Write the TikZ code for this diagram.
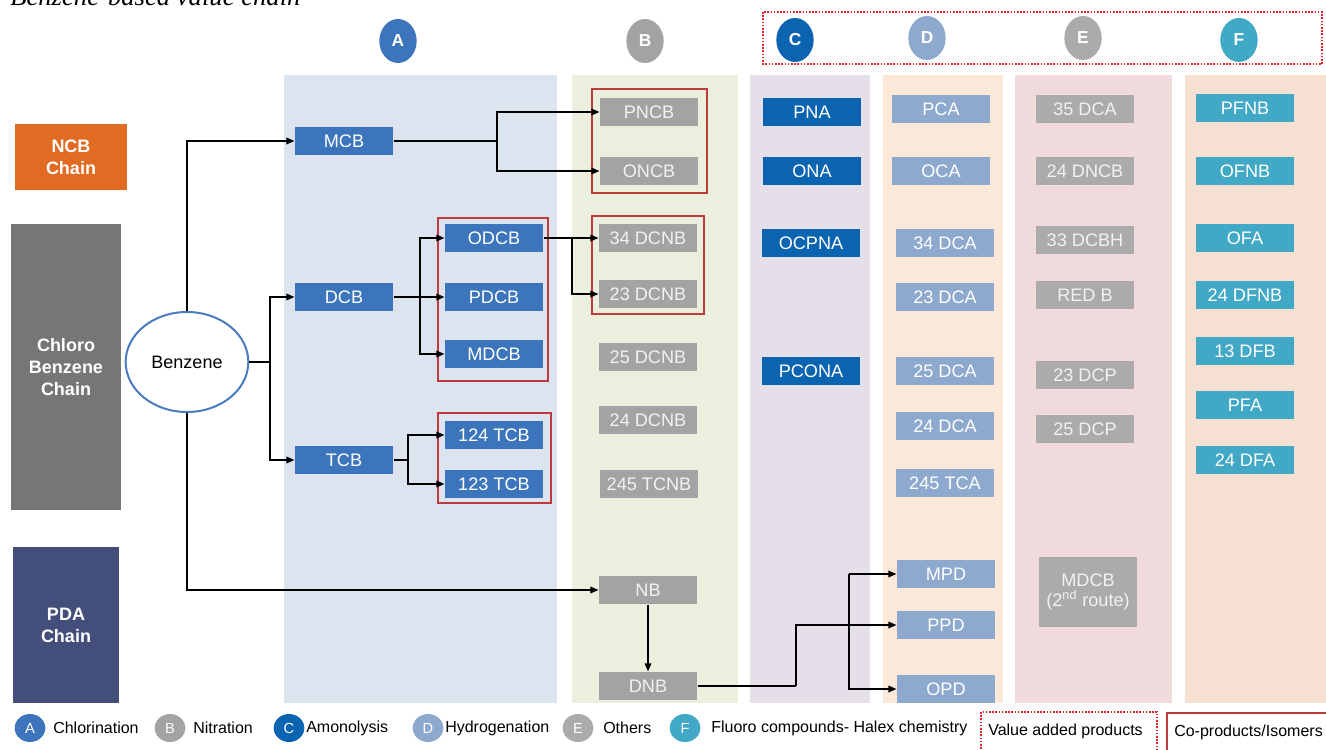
\documentclass[tikz,border=0pt]{standalone}
\usepackage{fontspec}
\setmainfont{Liberation Sans}
\newfontfamily\capfont{Liberation Serif}
\usetikzlibrary{arrows.meta, positioning, shapes.geometric, calc}
\usepackage{xcolor}
\definecolor{ChlorA}{HTML}{3C75BC}
\definecolor{NitrB}{HTML}{A3A3A3}
\definecolor{AmonC}{HTML}{0B64AF}
\definecolor{HydrD}{HTML}{8DA9CD}
\definecolor{OthE}{HTML}{ACAAAA}
\definecolor{FluoF}{HTML}{41A8C5}
\definecolor{LaneA}{HTML}{DCE4F0}
\definecolor{LaneB}{HTML}{EBEFDE}
\definecolor{LaneC}{HTML}{E5DFEA}
\definecolor{LaneD}{HTML}{FCE8D9}
\definecolor{LaneE}{HTML}{F1DADB}
\definecolor{LaneF}{HTML}{F6E0D2}
\definecolor{NcbOrange}{HTML}{E26B24}
\definecolor{ChloroGrey}{HTML}{767676}
\definecolor{PdaNavy}{HTML}{434E7B}
\definecolor{BenzBlue}{HTML}{4A7BBE}
\definecolor{IsoRed}{HTML}{C0393D}
\definecolor{ValRed}{HTML}{E3242B}
\tikzset{
  pbox/.style={minimum width=74pt, minimum height=21.5pt, inner sep=0pt,
    text=white, font=\fontsize{13.6}{15.5}\selectfont},
  abox/.style={pbox, fill=ChlorA},
  bbox/.style={pbox, fill=NitrB, text=white!95!black},
  cbox/.style={pbox, fill=AmonC},
  dbox/.style={pbox, fill=HydrD},
  ebox/.style={pbox, fill=OthE, text=white!95!black},
  fbox/.style={pbox, fill=FluoF},
  chain/.style={align=center, text=white, inner sep=0pt,
    font=\bfseries\fontsize{13.5}{16.5}\selectfont},
  tag/.style={ellipse, minimum width=28pt, minimum height=33pt, inner sep=0pt,
    text=white, font=\bfseries\fontsize{13}{15}\selectfont},
  key/.style={ellipse, minimum width=23pt, minimum height=21pt, inner sep=0pt,
    text=white, font=\fontsize{11}{13}\selectfont},
  keytext/.style={anchor=west, inner sep=0pt, font=\fontsize{12}{14}\selectfont},
  iso/.style={draw=IsoRed, line width=1.8pt},
  valadd/.style={draw=ValRed, line width=1.2pt, dash pattern=on 1.2pt off 1.2pt},
  wire/.style={line width=0.9pt},
  link/.style={wire, -{Triangle[length=6pt, width=5pt]}},
}
\begin{document}
\begin{tikzpicture}[x=0.75pt, y=-0.75pt]
  \useasboundingbox (0,0) rectangle (1326,749);
  \node[anchor=base west, inner sep=0pt, font=\capfont\itshape\fontsize{20}{22}\selectfont]
    (title) at (10,6) {Benzene-based value chain};

  % process lanes
  \fill[LaneA] (284,75) rectangle (557,703);
  \fill[LaneB] (572,75) rectangle (738,703);
  \fill[LaneC] (750,75) rectangle (870,703);
  \fill[LaneD] (883,75) rectangle (1003,703);
  \fill[LaneE] (1015,75) rectangle (1172,703);
  \fill[LaneF] (1185,75) rectangle (1326,703);

  % lane headers
  \draw[valadd] (763,12) rectangle (1322,64);
  \node[tag, fill=ChlorA] (hA) at (398,41) {A};
  \node[tag, fill=NitrB] (hB) at (645,41) {B};
  \node[tag, fill=AmonC] (hC) at (795,40) {C};
  \node[tag, fill=HydrD] (hD) at (927,38) {D};
  \node[tag, fill=OthE] (hE) at (1083,38) {E};
  \node[tag, fill=FluoF] (hF) at (1239,40) {F};

  % chains
  \node[chain, fill=NcbOrange, minimum width=84pt, minimum height=49.5pt] (ncb) at (71,157) {NCB\\Chain};
  \node[chain, fill=ChloroGrey, minimum width=82.5pt, minimum height=214pt] (chloro) at (66,367) {Chloro\\Benzene\\Chain};
  \node[chain, fill=PdaNavy, minimum width=79.5pt, minimum height=117pt] (pda) at (66,625) {PDA\\Chain};
  \node[ellipse, draw=BenzBlue, line width=1.5pt, fill=white, minimum width=92pt, minimum height=75pt,
    inner sep=0pt, font=\fontsize{13.5}{15}\selectfont] (benz) at (187,362) {Benzene};

  % co-product groups
  \draw[iso] (592,89) rectangle (707,193);
  \draw[iso] (438,218) rectangle (548,381);
  \draw[iso] (592,216) rectangle (704,314);
  \draw[iso] (438,413) rectangle (551,503);

  % A: chlorination
  \node[abox] (mcb) at (344,141) {MCB};
  \node[abox] (dcb) at (344,297) {DCB};
  \node[abox] (tcb) at (344,460) {TCB};
  \node[abox] (odcb) at (494,238) {ODCB};
  \node[abox] (pdcb) at (494,297) {PDCB};
  \node[abox] (mdcb) at (494,354) {MDCB};
  \node[abox] (tcb124) at (494,435) {124 TCB};
  \node[abox] (tcb123) at (494,484) {123 TCB};

  % B: nitration
  \node[bbox] (pncb) at (649,112) {PNCB};
  \node[bbox] (oncb) at (649,171) {ONCB};
  \node[bbox] (dcnb34) at (648,238) {34 DCNB};
  \node[bbox] (dcnb23) at (648,294) {23 DCNB};
  \node[bbox] (dcnb25) at (648,357) {25 DCNB};
  \node[bbox] (dcnb24) at (648,420) {24 DCNB};
  \node[bbox] (tcnb245) at (649,484) {245 TCNB};
  \node[bbox] (nb) at (648,590) {NB};
  \node[bbox] (dnb) at (648,686) {DNB};

  % C: amonolysis
  \node[cbox] (pna) at (812,112) {PNA};
  \node[cbox] (ona) at (812,171) {ONA};
  \node[cbox] (ocpna) at (811,243) {OCPNA};
  \node[cbox] (pcona) at (811,371) {PCONA};

  % D: hydrogenation
  \node[dbox] (pca) at (941,109) {PCA};
  \node[dbox] (oca) at (941,171) {OCA};
  \node[dbox] (dca34) at (945,243) {34 DCA};
  \node[dbox] (dca23) at (945,297) {23 DCA};
  \node[dbox] (dca25) at (945,371) {25 DCA};
  \node[dbox] (dca24) at (945,426) {24 DCA};
  \node[dbox] (tca245) at (945,483) {245 TCA};
  \node[dbox] (mpd) at (946,574) {MPD};
  \node[dbox] (ppd) at (946,625) {PPD};
  \node[dbox] (opd) at (946,689) {OPD};

  % E: others
  \node[ebox] (dca35) at (1085,109) {35 DCA};
  \node[ebox] (dncb24) at (1085,171) {24 DNCB};
  \node[ebox] (dcbh33) at (1085,240) {33 DCBH};
  \node[ebox] (redb) at (1085,295) {RED B};
  \node[ebox] (dcp23) at (1085,375) {23 DCP};
  \node[ebox] (dcp25) at (1085,429) {25 DCP};
  \node[ebox, align=center, minimum height=52pt] (mdcbtwo) at (1088,592) {MDCB\\(2\textsuperscript{nd} route)};

  % F: fluoro compounds
  \node[fbox] (pfnb) at (1245,108) {PFNB};
  \node[fbox] (ofnb) at (1245,171) {OFNB};
  \node[fbox] (ofa) at (1245,238) {OFA};
  \node[fbox] (dfnb24) at (1245,295) {24 DFNB};
  \node[fbox] (dfb13) at (1245,351) {13 DFB};
  \node[fbox] (pfa) at (1245,405) {PFA};
  \node[fbox] (dfa24) at (1245,460) {24 DFA};

  % connectors
  \coordinate (jb) at (270,362);
  \coordinate (jm) at (497,141);
  \coordinate (jd) at (420,297);
  \coordinate (jt) at (408,460);
  \coordinate (jo) at (572,238);
  \coordinate (jn) at (796,686);
  \coordinate (jp) at (849,574);
  \draw[link] (benz.north) |- (mcb.west);
  \draw[wire] (benz.east) -- (jb);
  \draw[link] (jb) |- (dcb.west);
  \draw[link] (jb) |- (tcb.west);
  \draw[link] (benz.south) |- (nb.west);
  \draw[wire] (mcb.east) -- (jm);
  \draw[link] (jm) |- (pncb.west);
  \draw[link] (jm) |- (oncb.west);
  \draw[link] (dcb.east) -- (pdcb.west);
  \draw[link] (jd) |- (odcb.west);
  \draw[link] (jd) |- (mdcb.west);
  \draw[wire] (tcb.east) -- (jt);
  \draw[link] (jt) |- (tcb124.west);
  \draw[link] (jt) |- (tcb123.west);
  \draw[link] (odcb.east) -- (dcnb34.west);
  \draw[link] (jo) |- (dcnb23.west);
  \draw[link] (nb.south) -- (dnb.north);
  \draw[wire] (dnb.east) -- (jn);
  \draw[link] (jn) |- (ppd.west);
  \draw[link] (jp) -- (mpd.west);
  \draw[link] (jp) |- (opd.west);

  % legend
  \node[key, fill=ChlorA] (kA) at (30,728) {A};
  \node[keytext] (kAt) at (53,728) {Chlorination};
  \node[key, fill=NitrB] (kB) at (170,728) {B};
  \node[keytext] (kBt) at (193,728) {Nitration};
  \node[key, fill=AmonC] (kC) at (289,728) {C};
  \node[keytext] (kCt) at (306,728) {Amonolysis};
  \node[key, fill=HydrD] (kD) at (428,728) {D};
  \node[keytext] (kDt) at (445,728) {Hydrogenation};
  \node[key, fill=OthE] (kE) at (578,728) {E};
  \node[keytext] (kEt) at (603,728) {Others};
  \node[key, fill=FluoF] (kF) at (685,728) {F};
  \node[keytext] (kFt) at (711,728) {Fluoro compounds- Halex chemistry};
  \draw[valadd] (981,712) rectangle (1157,760);
  \node[keytext] (kval) at (988,731) {Value added products};
  \draw[iso] (1167,713) rectangle (1345,760);
  \node[keytext] (kiso) at (1174,732) {Co-products/Isomers};
\end{tikzpicture}
\end{document}
